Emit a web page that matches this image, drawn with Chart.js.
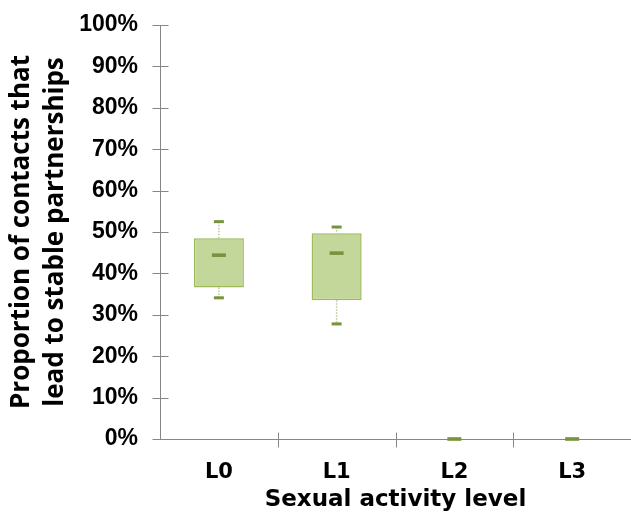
<!DOCTYPE html>
<html>
<head>
<meta charset="utf-8">
<script src="https://cdn.jsdelivr.net/npm/chart.js@4.4.1/dist/chart.umd.min.js"></script>
<style>
  html, body { margin: 0; padding: 0; background: #ffffff; }
  #wrap { width: 631px; height: 514px; }
</style>
</head>
<body>
<div id="wrap"><canvas id="chart" width="631" height="514"></canvas></div>
<script>
// Sexual activity levels and the five-number summary for each level (percent)
const categories = ['L0', 'L1', 'L2', 'L3'];
const minVals    = [34.1, 27.8, 0, 0];
const q1Vals     = [36.6, 33.5, 0, 0];
const medianVals = [44.4, 44.9, 0, 0];
const q3Vals     = [48.5, 49.7, 0, 0];
const maxVals    = [52.5, 51.2, 0, 0];
const yTickValues = [0, 10, 20, 30, 40, 50, 60, 70, 80, 90, 100];

const AXIS_COLOR = '#868686';
const BOX_FILL = '#c4d79b';
const BOX_EDGE = '#9bbb59';
const MARK_COLOR = '#77933c';
const WHISKER_COLOR = '#b9c99a';

// Axes with ticks crossing the line, whiskers, caps and medians
const boxPlotPlugin = {
  id: 'boxPlotPlugin',
  beforeDatasetsDraw(chart) {
    const { ctx, chartArea, scales: { x, y } } = chart;
    ctx.save();
    // whiskers (dotted), drawn beneath boxes
    ctx.strokeStyle = WHISKER_COLOR;
    ctx.lineWidth = 1.5;
    ctx.setLineDash([1.5, 1.5]);
    categories.forEach((c, i) => {
      const cx = x.getPixelForValue(i);
      ctx.beginPath();
      ctx.moveTo(cx, y.getPixelForValue(maxVals[i]));
      ctx.lineTo(cx, y.getPixelForValue(q3Vals[i]));
      ctx.moveTo(cx, y.getPixelForValue(q1Vals[i]));
      ctx.lineTo(cx, y.getPixelForValue(minVals[i]));
      ctx.stroke();
    });
    ctx.setLineDash([]);
    // axes
    ctx.strokeStyle = AXIS_COLOR;
    ctx.lineWidth = 1;
    const y0 = Math.round(y.getPixelForValue(0)) + 0.5;
    const xl = Math.round(chartArea.left) + 0.5;
    ctx.beginPath();
    ctx.moveTo(xl, y.getPixelForValue(100));
    ctx.lineTo(xl, y0);
    ctx.lineTo(chartArea.right, y0);
    yTickValues.forEach(v => {
      const py = Math.round(y.getPixelForValue(v)) + 0.5;
      ctx.moveTo(xl - 8, py);
      ctx.lineTo(xl + 8, py);
    });
    for (let i = 1; i < categories.length; i++) {
      const px = Math.round((x.getPixelForValue(i - 1) + x.getPixelForValue(i)) / 2) + 0.5;
      ctx.moveTo(px, y0 - 7);
      ctx.lineTo(px, y0 + 8);
    }
    ctx.stroke();
    ctx.restore();
  },
  afterDatasetsDraw(chart) {
    const { ctx, scales: { x, y } } = chart;
    ctx.save();
    ctx.fillStyle = MARK_COLOR;
    categories.forEach((c, i) => {
      const cx = x.getPixelForValue(i);
      const allZero = maxVals[i] === 0 && minVals[i] === 0;
      if (!allZero) {
        [maxVals[i], minVals[i]].forEach(v => {
          const py = y.getPixelForValue(v);
          ctx.fillRect(cx - 5, py - 1.5, 10, 3);
        });
      }
      const pm = y.getPixelForValue(medianVals[i]);
      ctx.fillRect(cx - 7, pm - 1.8, 14, 3.6);
    });
    ctx.restore();
  }
};

const boxData = categories.map((c, i) => [q1Vals[i], q3Vals[i]]);

new Chart(document.getElementById('chart'), {
  type: 'bar',
  data: {
    labels: categories,
    datasets: [{
      data: boxData,
      backgroundColor: BOX_FILL,
      borderColor: BOX_EDGE,
      borderWidth: 1.5,
      borderSkipped: false,
      barPercentage: 0.425,
      categoryPercentage: 1.0
    }]
  },
  options: {
    responsive: false,
    animation: false,
    layout: { padding: { top: 25, right: 0, left: 0, bottom: 0 } },
    plugins: {
      legend: { display: false },
      tooltip: { enabled: false }
    },
    scales: {
      x: {
        grid: { display: false, drawTicks: false },
        border: { display: false },
        ticks: {
          color: '#000000',
          padding: 21,
          font: { family: 'DejaVu Sans', size: 21, weight: 'bold' }
        },
        title: {
          display: true,
          text: 'Sexual activity level',
          color: '#000000',
          padding: { top: 0, bottom: 0 },
          font: { family: 'DejaVu Sans', size: 23, weight: 'bold' }
        },
        afterFit(scale) { scale.height = 75; scale.paddingLeft = 0; scale.paddingRight = 0; }
      },
      y: {
        min: 0,
        max: 100,
        afterBuildTicks(scale) {
          scale.ticks = yTickValues.map(v => ({ value: v }));
        },
        grid: { display: false, drawTicks: false },
        border: { display: false },
        ticks: {
          color: '#000000',
          padding: 22,
          callback: v => v + '%',
          font: { family: 'Liberation Sans', size: 23, weight: 'bold' }
        },
        title: {
          display: true,
          text: ['Proportion of contacts that', 'lead to stable partnerships'],
          color: '#000000',
          padding: { top: 5, bottom: 0 },
          font: { family: 'Open Sans', size: 26, weight: 'bold', lineHeight: 1.3 }
        },
        afterFit(scale) { scale.width = 160; scale.paddingTop = 0; scale.paddingBottom = 0; }
      }
    }
  },
  plugins: [boxPlotPlugin]
});
</script>
</body>
</html>
